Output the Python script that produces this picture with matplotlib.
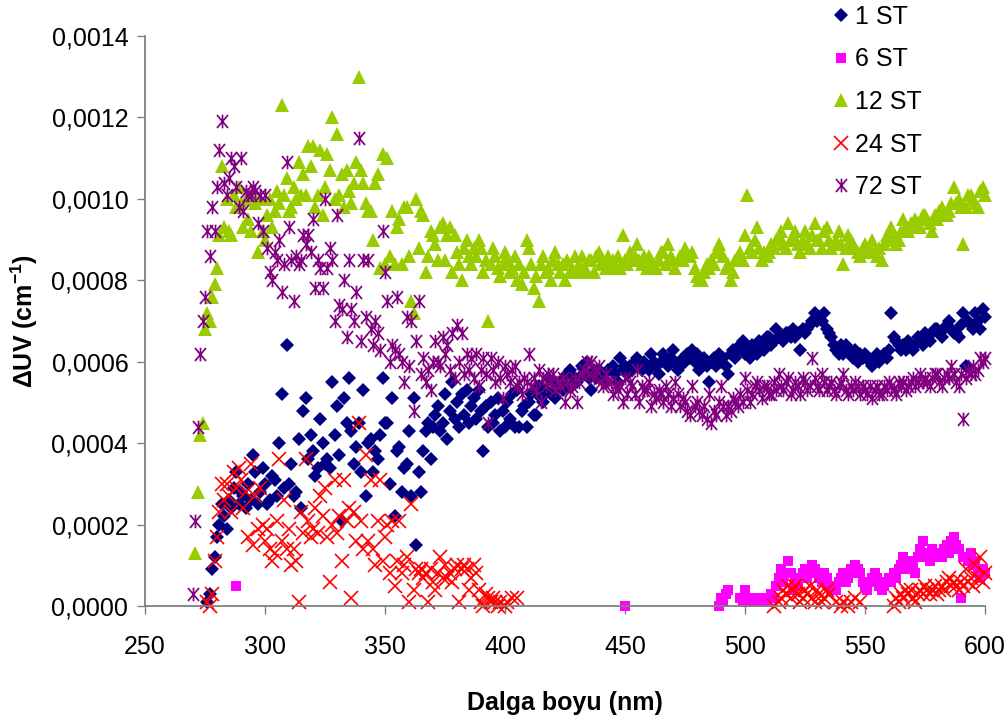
import numpy as np
import matplotlib
matplotlib.use("Agg")
import matplotlib.pyplot as plt
from matplotlib.path import Path
from matplotlib.ticker import FuncFormatter, MultipleLocator

plt.rcParams["font.family"] = ["Liberation Sans", "DejaVu Sans"]
plt.rcParams["mathtext.fontset"] = "custom"
plt.rcParams["mathtext.rm"] = "Liberation Sans"
plt.rcParams["mathtext.bf"] = "Liberation Sans:bold"

# Values are stored in units of 1e-5 cm^-1; one value per nm starting at the
# given wavelength.  None marks wavelengths without a plotted value.
UNIT = 1e-5

ST1_START = 276
ST1_VALUES = [
    1, 3, 9, 12, 17, 20, 25, 22, 19, 26,
    24, 29, 33, 25, 28, 27, 24, 30, 26, 37,
    33, 25, 28, 34, 30, 25, 26, 32, 31, 27,
    40, 52, 29, 64, 30, 35, 27, 28, 41, 24,
    48, 51, 36, 42, 38, 32, 34, 46, 40, 35,
    36, 34, 55, 42, 49, 37, 21, 51, 45, 56,
    43, 35, 39, 45, 33, 53, 27, 40, 41, 33,
    38, 36, 42, 56, 45, 45, 30, 51, 22, 38,
    39, 28, 34, 35, 43, 27, 51, 15, 33, 28,
    38, 43, 45, 36, 44, 47, 49, 43, 45, 52,
    41, 48, 55, 46, 50, 44, 52, 47, 53, 45,
    49, 51, 46, 53, 48, 38, 49, 44, 50, 45,
    47, 51, 43, 48, 44, 50, 46, 52, 44, 53,
    44, 48, 49, 44, 50, 52, 47, 47, 54, 51,
    50, 53, 56, 52, 55, 51, 54, 55, 53, 54,
    57, 58, 54, 56, 55, 56, 59, 57, 60, 56,
    53, 58, 56, 58, 57, 57, 55, 58, 58, 59,
    57, 55, 61, 58, 59, 57, 59, 58, 60, 61,
    59, 58, 60, 59, 58, 62, 60, 59, 57, 60,
    62, 60, 59, 61, 63, 60, 58, 59, 61, 60,
    62, 61, 63, 60, 62, 58, 60, 61, 59, 55,
    60, 61, 59, 62, 60, 61, 59, 57, 62, 63,
    61, 63, 64, 65, 62, 63, 61, 64, 63, 62,
    65, 64, 63, 66, 66, 64, 65, 68, 66, 66,
    65, 67, 67, 66, 68, 66, 67, 63, 68, 67,
    68, 69, 70, 72, 70, 71, 70, 72, 68, 67,
    66, 64, 63, 62, 64, 62, 64, 63, 62, 61,
    63, 60, 62, 61, 62, 61, 60, 59, 61, 62,
    60, 61, 62, 61, 63, 72, 66, 65, 64, 63,
    64, 63, 65, 64, 63, 64, 66, 65, 64, 67,
    66, 65, 67, 68, 68, 67, 66, 68, 69, 70,
    68, 67, 67, 66, 69, 72, 59, 70, 69, 68,
    72, 70, 68, 73, 71,
]

ST6_SEGMENTS = [
    (288, [5]),
    (450, [0]),
    (489, [
        0, 2, 1, 3, 4, None, None, None, None, 2,
        1, 4, 2, 1, 1, 2, 1, 2, 1, 2,
        1, 2, 3, 2, 5, 7, 9, 6, 8, 11,
        8, 4, 6, 5, 7, 8, 9, 7, 8, 10,
        9, 8, 7, 6, 8, 7, 5, 4, 5, 4,
        6, 7, 8, 6, 7, 9, 8, 10, 9, 8,
        6, 5, 4, 6, 7, 8, 7, 5, 4, 5,
        6, 7, 6, 8, 7, 9, 10, 12, 9, 10,
        11, 10, 8, 12, 14, 16, 13, 12, 11, 14,
        13, 12, 13, 12, 14, 15, 13, 16, 17, 15,
        14, 2, 12, 12, 11, 13, 10, 11, 8, 7,
        9, 8,
    ]),
]

ST12_START = 271
ST12_VALUES = [
    13, 28, 42, 45, 68, 72, 70, 76, 79, 83,
    91, 108, 93, 100, 92, 91, 101, 98, 103, 99,
    93, 100, 95, 92, 101, 99, 87, 100, 92, 90,
    96, 100, 93, 97, 102, 99, 123, 101, 105, 97,
    98, 103, 100, 109, 101, 106, 101, 113, 108, 113,
    98, 101, 112, 96, 103, 111, 107, 120, 100, 116,
    101, 106, 98, 107, 102, 99, 104, 109, 130, 107,
    104, 99, 97, 97, 90, 104, 106, 83, 111, 84,
    110, 86, 97, 84, 93, 95, 84, 98, 98, 86,
    75, 72, 100, 88, 97, 96, 82, 86, 92, 91,
    89, 85, 93, 94, 85, 91, 93, 82, 91, 87,
    84, 80, 88, 90, 86, 84, 88, 86, 90, 88,
    82, 85, 70, 84, 88, 86, 83, 81, 84, 87,
    85, 82, 83, 86, 80, 84, 79, 82, 90, 88,
    84, 78, 81, 75, 84, 86, 82, 83, 80, 85,
    87, 84, 82, 84, 80, 85, 82, 83, 86, 82,
    84, 86, 83, 82, 85, 85, 82, 86, 87, 84,
    85, 83, 86, 84, 85, 83, 86, 83, 91, 85,
    84, 87, 85, 86, 89, 85, 84, 86, 83, 86,
    85, 84, 83, 85, 87, 87, 84, 89, 86, 85,
    83, 85, 86, 85, 88, 86, 86, 87, 83, 81,
    80, 80, 82, 84, 83, 85, 84, 87, 89, 87,
    86, 83, 84, 80, 82, 85, 86, 87, 85, 91,
    101, 88, 87, 90, 93, 88, 85, 87, 86, 87,
    89, 88, 90, 91, 92, 89, 88, 94, 90, 91,
    92, 89, 87, 90, 92, 89, 88, 91, 94, 90,
    90, 88, 92, 93, 90, 88, 89, 90, 92, 89,
    84, 88, 91, 90, 89, 88, 87, 86, 88, 89,
    87, 88, 90, 87, 86, 88, 85, 89, 91, 90,
    93, 91, 89, 90, 92, 95, 93, 92, 94, 93,
    95, 94, 93, 96, 96, 95, 94, 92, 96, 95,
    97, 98, 96, 96, 97, 99, 103, 99, 100, 98,
    89, 98, 101, 101, 100, 99, 98, 102, 103, 101,
]

ST24_SEGMENTS = [
    (276, [
        1, 0, 3, 11, 17, 23, 30, 26, 30, 27,
        23, 33, 29, 34, 31, 24, 28, 17, 35, 15,
        27, 19, 29, 20, 16, 19, 14, 11, 13, 21,
        36, 16, 26, 14, 19, 10, 14, 11, 1, 23,
        18, 36, 21, 17, 19, 24, 18, 27, 22, 29,
        17, 6, 20, 31, 18, 22, 11, 31, 21, 24,
        2, 23, 16, 45, 21, 14, 37, 16, 31, 14,
        10, 21, 31, 11, 17, 20, 8, 21, 5, 11,
        21, 8, 10, 12, 1, 25, 4, 9, 8, 9,
        7, 8, 1, 9, 6, 4, 8, 12, 7, 10,
        7, 8, 6, 9, 10, 1, 9, 10, 9, 4,
        7, 10, 8, 4, 1, 0, 3, 2, 1, 2,
        1, 0, 1, None, 0, 1, None, 2, None, 2,
    ]),
    (512, [
        0, None, 1, 2, 4, 3, 5, 2, 4, 5,
        3, 1, 2, 4, 3, 5, 2, 1, 4, 3,
        1, 2, 4, 3, None, None, 1, None, 0, 1,
        None, 0, 1, None, 2, None, 1, None, None, None,
        None, None, None, None, None, None, None, None, None, None,
        0, 2, 1, 3, 2, 4, 3, 4, 2, 1,
        3, 4, 3, 5, 4, 3, 4, 5, 3, 4,
        5, 4, 6, 7, 5, 6, 5, 4, 6, 5,
        9, 6, 7, 5, 10, 7, 12, 6, 8,
    ]),
]

ST72_START = 270
ST72_VALUES = [
    3, 21, 44, 62, 70, 76, 92, 86, 98, 92,
    103, 112, 119, 104, 101, 105, 110, 108, 103, 98,
    110, 97, 102, 101, 101, 103, 102, 94, 101, 92,
    101, 88, 82, 80, 87, 85, 90, 77, 84, 109,
    93, 85, 75, 86, 84, 85, 91, 89, 91, 87,
    95, 78, 85, 83, 78, 100, 83, 88, 85, 70,
    96, 74, 73, 80, 66, 85, 73, 70, 77, 115,
    65, 85, 71, 85, 68, 64, 70, 67, 63, 92,
    82, 75, 60, 64, 63, 76, 62, 60, 55, 71,
    59, 70, 48, 65, 75, 57, 61, 55, 58, 53,
    60, 65, 60, 59, 66, 62, 64, 58, 67, 56,
    69, 60, 67, 57, 62, 58, 61, 56, 62, 54,
    58, 61, 57, 45, 61, 58, 55, 60, 56, 51,
    59, 57, 55, 58, 59, 54, 55, 52, 56, 55,
    62, 54, 56, 53, 58, 50, 56, 54, 57, 55,
    57, 53, 55, 54, 56, 50, 55, 53, 54, 56,
    50, 55, 57, 58, 60, 57, 60, 56, 58, 59,
    55, 54, 57, 55, 55, 52, 54, 53, 54, 50,
    56, 52, 55, 54, 52, 58, 50, 54, 53, 53,
    55, 49, 52, 51, 53, 52, 50, 54, 52, 49,
    51, 55, 52, 49, 51, 50, 48, 47, 54, 49,
    50, 48, 47, 49, 46, 52, 45, 48, 47, 50,
    54, 49, 47, 49, 48, 51, 50, 49, 52, 50,
    56, 53, 50, 52, 54, 55, 53, 51, 54, 54,
    52, 52, 55, 53, 57, 54, 53, 55, 56, 52,
    53, 55, 54, 52, 56, 55, 53, 54, 61, 56,
    54, 53, 57, 55, 53, 54, 55, 53, 52, 54,
    55, 57, 53, 52, 54, 53, 55, 54, 52, 54,
    53, 52, 54, 51, 53, 54, 52, 52, 54, 53,
    55, 54, 53, 52, 55, 54, 55, 53, 54, 55,
    56, 54, 55, 57, 55, 56, 55, 54, 56, 57,
    57, 55, 54, 56, 57, 56, 59, 57, 55, 54,
    57, 46, 56, 58, 57, 59, 57, 58, 61, 60,
    61,
]

SERIES_LABELS = ["1 ST", "6 ST", "12 ST", "24 ST", "72 ST"]
X_TICKS = [250, 300, 350, 400, 450, 500, 550, 600]


def expand(segments):
    xs, ys = [], []
    for start, values in segments:
        for i, v in enumerate(values):
            if v is not None:
                xs.append(start + i)
                ys.append(v * UNIT)
    return np.array(xs, dtype=float), np.array(ys, dtype=float)


# asterisk marker: an x with a vertical bar
star = Path(
    [(-0.85, -1), (0.85, 1), (-0.85, 1), (0.85, -1), (0, -1.05), (0, 1.05)],
    [Path.MOVETO, Path.LINETO, Path.MOVETO, Path.LINETO, Path.MOVETO, Path.LINETO],
)

data = [
    expand([(ST1_START, ST1_VALUES)]),
    expand(ST6_SEGMENTS),
    expand([(ST12_START, ST12_VALUES)]),
    expand(ST24_SEGMENTS),
    expand([(ST72_START, ST72_VALUES)]),
]

styles = [
    dict(marker="D", color="#000080", ms=7.4, mew=0),
    dict(marker="s", color="#FF00FF", ms=7.8, mew=0),
    dict(marker="^", color="#99CC00", ms=9.6, mew=0),
    dict(marker="x", color="#FF0000", ms=9.6, mew=1.2),
    dict(marker=star, color="#800080", ms=9.8, mew=1.25, mfc="none"),
]

W, H = 1008, 724
fig = plt.figure(figsize=(W / 100, H / 100), dpi=100)
ax = fig.add_axes([145 / W, (H - 606) / H, 840 / W, 570 / H])

handles = []
for (x, y), st, lab in zip(data, styles, SERIES_LABELS):
    h, = ax.plot(x, y, ls="none", clip_on=False, label=lab, **st)
    handles.append(h)

ax.set_xlim(250, 600)
ax.set_ylim(0, 0.0014)
ax.set_xticks(X_TICKS)
ax.yaxis.set_major_locator(MultipleLocator(0.0002))
ax.yaxis.set_major_formatter(FuncFormatter(lambda v, p: f"{v:.4f}".replace(".", ",")))

for side in ("top", "right"):
    ax.spines[side].set_visible(False)
for side in ("left", "bottom"):
    ax.spines[side].set_color("#808080")
    ax.spines[side].set_linewidth(1.3)

ax.tick_params(axis="both", direction="out", length=6, width=1.0,
               color="#808080", labelsize=18, labelcolor="black")
ax.tick_params(axis="x", pad=15)
ax.tick_params(axis="y", pad=6)

ax.set_xlabel("Dalga boyu (nm)", fontsize=18, fontweight="bold", labelpad=23)
ax.set_ylabel(r"ΔUV (cm$^{\mathbf{-1}}$)", fontsize=18, fontweight="bold", labelpad=8)

fig.legend(handles=handles, labels=SERIES_LABELS, loc="upper left",
           bbox_to_anchor=(834 / W, 1 - 5 / H), frameon=False, fontsize=18,
           handlelength=0.55, handletextpad=0.3, labelspacing=0.74,
           borderpad=0, borderaxespad=0, numpoints=1)

fig.savefig("out.png", dpi=100)
